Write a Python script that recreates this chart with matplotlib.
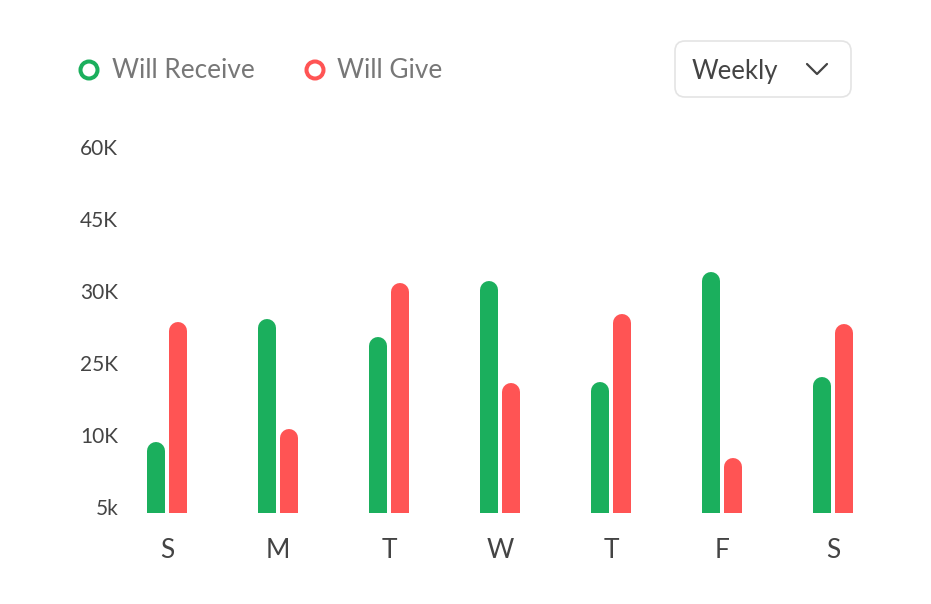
import numpy as np
import matplotlib
matplotlib.use('Agg')
import matplotlib.pyplot as plt
from matplotlib.patches import Circle, FancyBboxPatch
from matplotlib.transforms import offset_copy

# data (thousands)
days = ['S', 'M', 'T', 'W', 'T', 'F', 'S']
will_receive = [9.5, 28.0, 26.8, 32.0, 21.0, 34.0, 22.0]
will_give = [27.8, 11.1, 31.6, 20.8, 28.4, 8.4, 27.7]
tick_vals = [5, 10, 25, 30, 45, 60]
tick_labels = ['5k', '10K', '25K', '30K', '45K', '60K']

GREEN = '#1BAF5D'
RED = '#FF5454'
DARK = '#444444'
GRAY = '#777777'

W, H = 931, 604
plt.rcParams['font.family'] = ['Lato', 'DejaVu Sans']

# the axis puts the labels at equal steps, so use a piecewise scale
knot_v = [0, 5, 10, 25, 30, 45, 60, 75]
knot_p = [-1, 0, 1, 2, 3, 4, 5, 6]
def fwd(v):
    return np.interp(v, knot_v, knot_p)
def inv(p):
    return np.interp(p, knot_p, knot_v)

fig = plt.figure(figsize=(W / 100, H / 100), dpi=100)
fig.patch.set_facecolor('white')

left, right, bottom, top = 125, 875, 513, 140
ax = fig.add_axes([left / W, 1 - bottom / H, (right - left) / W, (bottom - top) / H])
ax.set_yscale('function', functions=(fwd, inv))
ylo, yhi = 4.56, 61.4
ax.set_ylim(ylo, yhi)
ax.set_xlim((left - 167) / 111, (right - 167) / 111)

x = np.arange(len(days))
off = 0.099
bar_px = 18
r = bar_px / 2
shift = offset_copy(ax.transData, fig=fig, x=0, y=-r, units='dots')
for xi, g, rd in zip(x, will_receive, will_give):
    ax.plot([xi - off, xi - off], [ylo, g], color=GREEN, lw=bar_px * 0.72,
            solid_capstyle='round', transform=shift)
    ax.plot([xi + off, xi + off], [ylo, rd], color=RED, lw=bar_px * 0.72,
            solid_capstyle='round', transform=shift)

ax.set_yticks(tick_vals)
ax.set_yticklabels(tick_labels)
ax.yaxis.set_minor_locator(matplotlib.ticker.NullLocator())
ax.set_xticks(x)
ax.set_xticklabels(days)
ax.tick_params(axis='y', length=0, pad=5, labelsize=15, labelcolor=DARK)
ax.tick_params(axis='x', length=0, pad=18, labelsize=19, labelcolor=DARK)
for s in ax.spines.values():
    s.set_visible(False)

# overlay in pixel coords for legend and dropdown
ov = fig.add_axes([0, 0, 1, 1], zorder=5)
ov.set_xlim(0, W)
ov.set_ylim(H, 0)
ov.axis('off')
ov.patch.set_alpha(0)

for cx, col, label, tx in [(89, GREEN, 'Will Receive', 112), (315, RED, 'Will Give', 337)]:
    ov.add_patch(Circle((cx, 70), 8.5, facecolor='none', edgecolor=col, lw=2.9))
    ov.text(tx, 71, label, fontsize=18.8, color=GRAY, va='center', ha='left')

ov.add_patch(FancyBboxPatch((675, 41), 176, 56, boxstyle='round,pad=0,rounding_size=10',
                            facecolor='white', edgecolor='#E4E4E4', lw=1.2))
ov.text(692, 71, 'Weekly', fontsize=18.5, color=DARK, va='center', ha='left')
ov.plot([807, 817, 827], [64, 74, 64], color=DARK, lw=1.6,
        solid_capstyle='round', solid_joinstyle='round')

plt.savefig('out.png', dpi=100, facecolor='white')
plt.close()
